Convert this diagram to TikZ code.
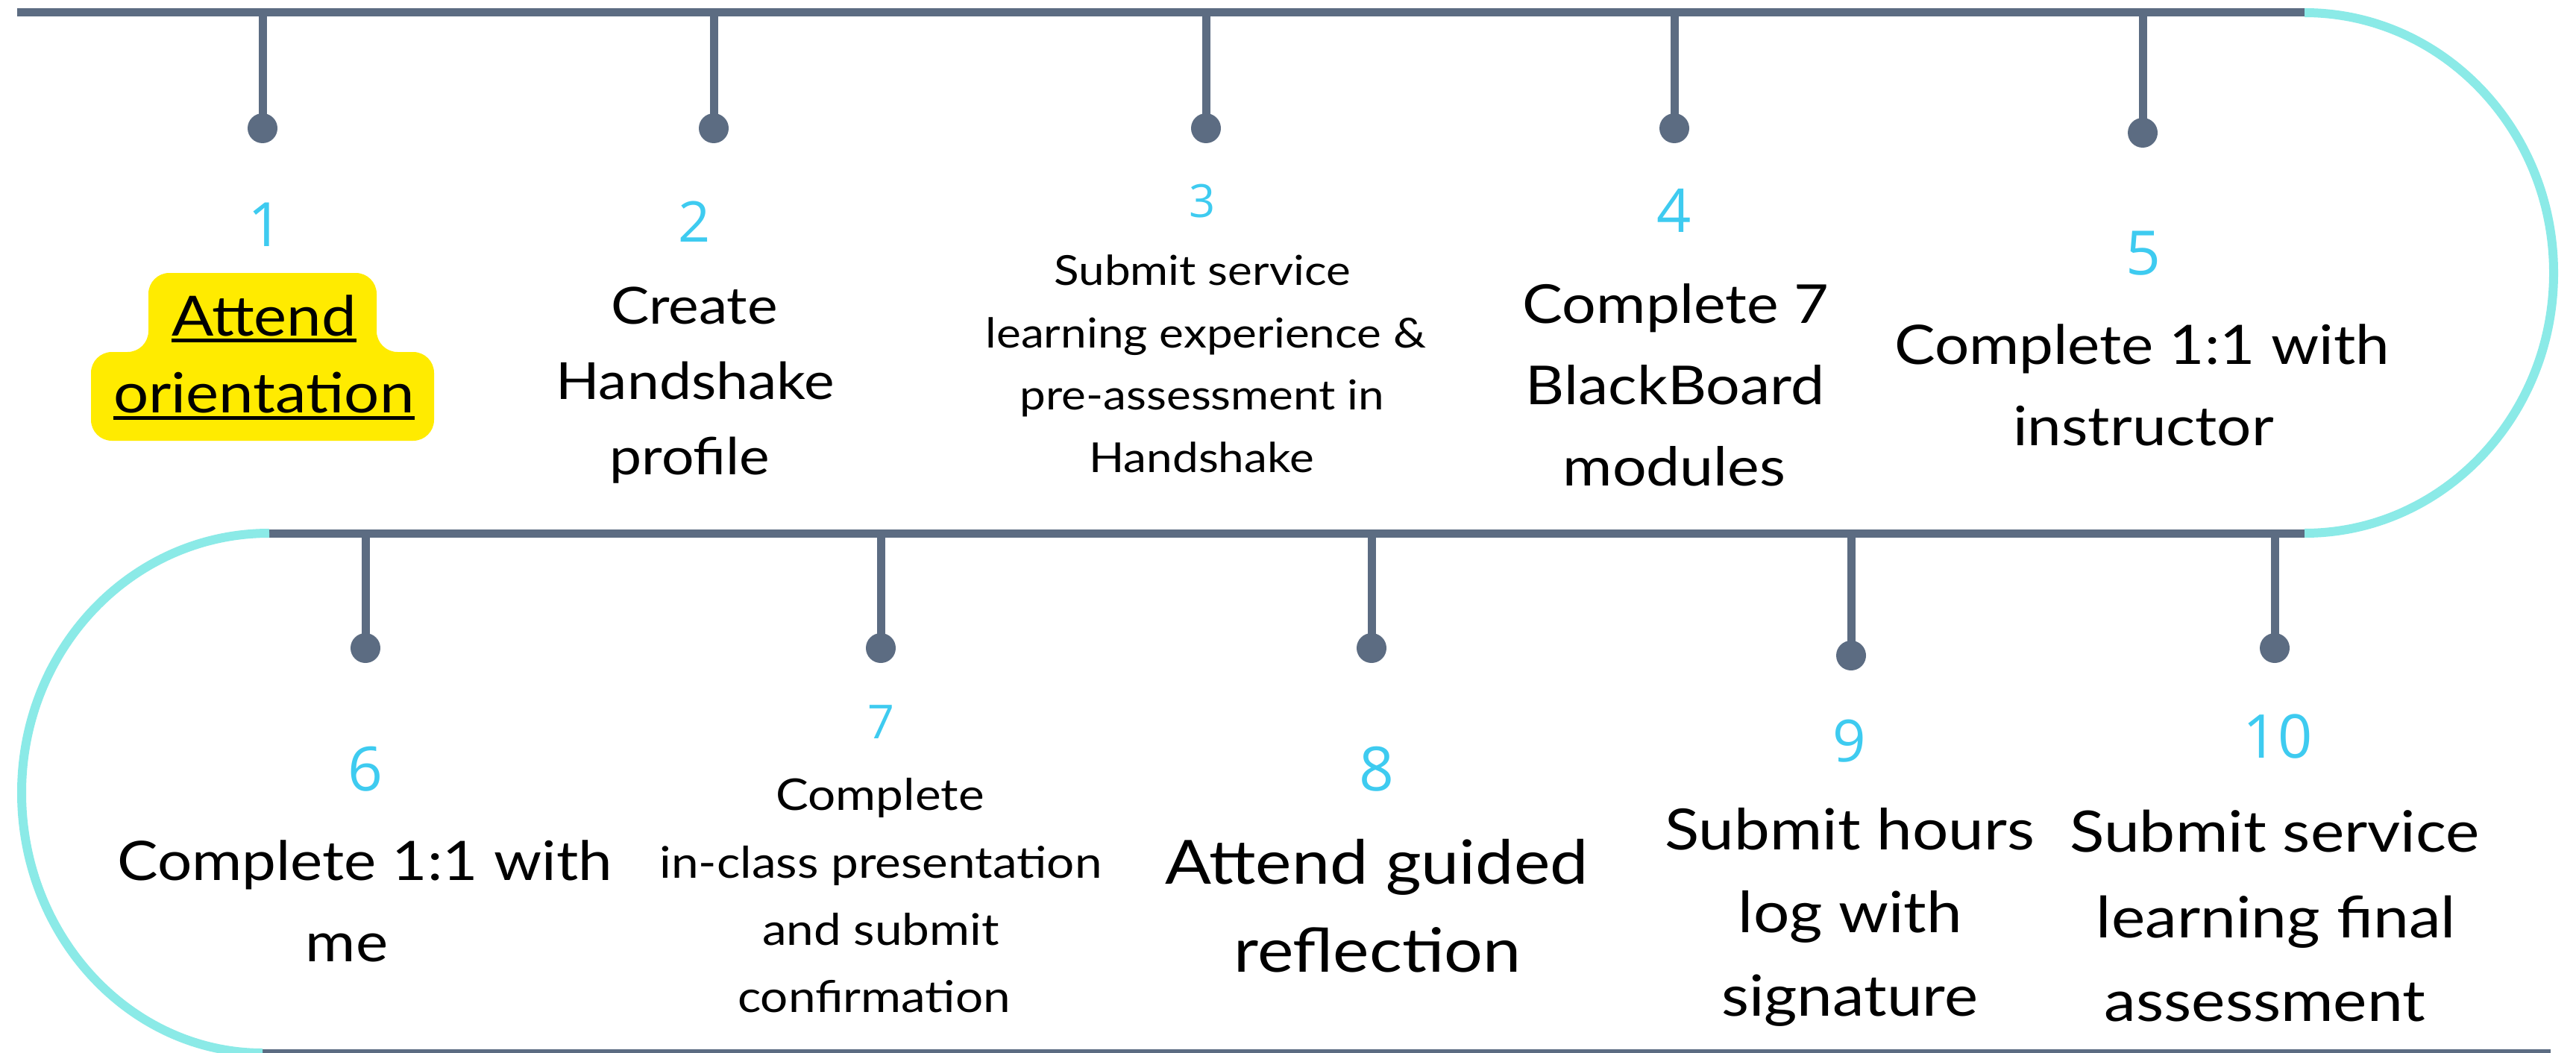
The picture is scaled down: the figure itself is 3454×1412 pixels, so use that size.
\documentclass[tikz,border=0pt]{standalone}
\usepackage{fontspec}
\setmainfont[FakeStretch=1.12]{Lato}
\newfontfamily\numfont{Open Sans}
\definecolor{slate}{HTML}{5C6C82}
\definecolor{aqua}{HTML}{8BEAE7}
\definecolor{numcol}{HTML}{3ECBF0}
\definecolor{hilite}{HTML}{FFEB00}
\tikzset{
  railline/.style={draw=slate, line width=5.5pt},
  stemline/.style={draw=slate, line width=5.5pt},
  dotnode/.style={circle, fill=slate, inner sep=0pt, minimum size=20pt},
  aquacurve/.style={draw=aqua, line width=6pt},
  numtxt/.style={anchor=base, inner sep=0pt, text=numcol, font=\numfont\fontsize{#1}{#1}\selectfont},
  lbltxt/.style={anchor=base, inner sep=0pt, text=black, font=\fontsize{#1}{#1}\selectfont},
  uline/.style={draw=black, line width=2.3pt},
}
\begin{document}
\begin{tikzpicture}[x=0.5pt,y=-0.5pt]
\useasboundingbox (0,0) rectangle (3454,1412);
\fill[white] (0,0) rectangle (3454,1412);

% highlight behind item 1
\fill[hilite, rounded corners=14pt] (199,366) -- (505,366) -- (505,472) -- (582,472) -- (582,591) -- (122,591) -- (122,472) -- (199,472) -- cycle;

% rails
\coordinate (TL) at (23,17);
\coordinate (TR) at (3090,17);
\coordinate (ML) at (361,715);
\coordinate (MR) at (3090,715);
\coordinate (BL) at (352,1412);
\coordinate (BR) at (3420,1412);
\draw[railline] (TL) -- (TR);
\draw[railline] (ML) -- (MR);
\draw[railline] (BL) -- (BR);
\draw[aquacurve] (TR) .. controls (3274,17) and (3424,173) .. (3424,366)
                 .. controls (3424,559) and (3274,715) .. (MR);
\draw[aquacurve] (ML) .. controls (177,715) and (29,870) .. (29,1063)
                 .. controls (29,1256) and (175,1412) .. (BL);

% stems and dots
\foreach \i/\x/\y in {1/352/172, 2/957/172, 3/1617/172, 4/2245/172, 5/2873/178}{
  \coordinate (s\i) at (\x,17);
  \node[dotnode] (d\i) at (\x,\y) {};
  \draw[stemline] (s\i) -- (d\i.center);
}
\foreach \i/\x/\y in {6/490/869, 7/1181/869, 8/1839/869, 9/2482/879, 10/3050/869}{
  \coordinate (s\i) at (\x,715);
  \node[dotnode] (d\i) at (\x,\y) {};
  \draw[stemline] (s\i) -- (d\i.center);
}

% numbers
\node[numtxt=41]   (n1)  at (356,330)  {1};
\node[numtxt=37.7] (n2)  at (931,324)  {2};
\node[numtxt=30.7] (n3)  at (1612,292) {3};
\node[numtxt=40.5] (n4)  at (2245,312) {4};
\node[numtxt=41]   (n5)  at (2874,368) {5};
\node[numtxt=41]   (n6)  at (490,1060) {6};
\node[numtxt=31.4] (n7)  at (1181,990) {7};
\node[numtxt=41]   (n8)  at (1846,1060) {8};
\node[numtxt=39]   (n9)  at (2480,1021) {9};
\node[numtxt=40.5] (n10) at (3054,1016) {10};

% item 1
\node[lbltxt=37.2] (t1a) at (354,450) {Attend};
\node[lbltxt=37.2] (t1b) at (354,553) {orientation};
\draw[uline] ([yshift=-3.2pt]t1a.base west) -- ([yshift=-3.2pt]t1a.base east);
\draw[uline] ([yshift=-3.6pt]t1b.base west) -- ([yshift=-3.6pt]t1b.base east);

% item 2
\node[lbltxt=34.3] (t2a) at (931,434) {Create};
\node[lbltxt=34.3] (t2b) at (932,535) {Handshake};
\node[lbltxt=34.3] (t2c) at (925,636) {profile};

% item 3
\node[lbltxt=27.7] (t3a) at (1612,382) {Submit service};
\node[lbltxt=27.7] (t3b) at (1617,466) {learning experience \&};
\node[lbltxt=27.7] (t3c) at (1612,549) {pre-assessment in};
\node[lbltxt=27.7] (t3d) at (1611,633) {Handshake};

% item 4
\node[lbltxt=36] (t4a) at (2247,433) {Complete 7};
\node[lbltxt=36] (t4b) at (2246,542) {BlackBoard};
\node[lbltxt=36] (t4c) at (2245,651) {modules};

% item 5
\node[lbltxt=36.5] (t5a) at (2872,488) {Complete 1:1 with};
\node[lbltxt=36.5] (t5b) at (2874,597) {instructor};

% item 6
\node[lbltxt=36.5] (t6a) at (489,1180) {Complete 1:1 with};
\node[lbltxt=36.5] (t6b) at (465,1289) {me};

% item 7
\node[lbltxt=29.3] (t7a) at (1180,1086) {Complete};
\node[lbltxt=29.3] (t7b) at (1181,1177) {in-class presentation};
\node[lbltxt=29.3] (t7c) at (1181,1267) {and submit};
\node[lbltxt=29.3] (t7d) at (1172,1357) {confirmation};

% item 8
\node[lbltxt=40.9] (t8a) at (1846,1185) {Attend guided};
\node[lbltxt=40.9] (t8b) at (1847,1303) {reflection};

% item 9
\node[lbltxt=38.1] (t9a) at (2480,1139) {Submit hours};
\node[lbltxt=38.1] (t9b) at (2481,1250) {log with};
\node[lbltxt=38.1] (t9c) at (2480,1362) {signature};

% item 10
\node[lbltxt=38.3] (t10a) at (3050,1142) {Submit service};
\node[lbltxt=38.3] (t10b) at (3052,1257) {learning final};
\node[lbltxt=38.3] (t10c) at (3037,1369) {assessment};
\end{tikzpicture}
\end{document}
